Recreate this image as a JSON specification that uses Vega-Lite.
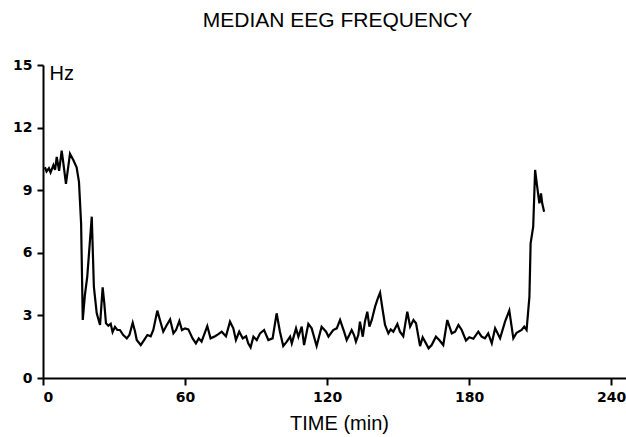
{
  "$schema": "https://vega.github.io/schema/vega-lite/v6.json",
  "autosize": {"type": "none"},
  "padding": {"left": 43, "top": 65, "right": 0, "bottom": 59},
  "width": 583,
  "height": 313,
  "background": "white",
  "title": {"text": "MEDIAN EEG FREQUENCY", "font": "Liberation Sans", "fontSize": 21, "fontWeight": "normal", "color": "black", "anchor": "middle", "offset": 27, "dx": 3},
  "data": {"values": [
    {"t":0.8,"hz":10.1},{"t":1.5,"hz":9.9},{"t":2.5,"hz":10.05},{"t":3.2,"hz":9.85},{"t":4.4,"hz":10.2},{"t":5.1,"hz":9.97},{"t":5.8,"hz":10.6},{"t":6.8,"hz":9.93},{"t":7.9,"hz":10.9},{"t":8.6,"hz":10.3},{"t":9.7,"hz":9.3},{"t":11.4,"hz":10.75},{"t":12.8,"hz":10.45},{"t":14.2,"hz":10.1},{"t":15.2,"hz":9.4},{"t":16.1,"hz":7.4},{"t":16.8,"hz":2.78},{"t":17.7,"hz":3.97},{"t":18.7,"hz":4.86},{"t":20.6,"hz":7.73},{"t":21.5,"hz":4.37},{"t":22.7,"hz":3.1},{"t":24.1,"hz":2.54},{"t":25.2,"hz":4.34},{"t":25.9,"hz":3.58},{"t":26.6,"hz":2.62},{"t":27.6,"hz":2.5},{"t":28.6,"hz":2.6},{"t":29.4,"hz":2.2},{"t":30.4,"hz":2.45},{"t":31.4,"hz":2.3},{"t":32.5,"hz":2.3},{"t":33.9,"hz":2.06},{"t":35.4,"hz":1.9},{"t":36.5,"hz":2.06},{"t":37.9,"hz":2.65},{"t":38.9,"hz":2.22},{"t":39.6,"hz":1.82},{"t":41.3,"hz":1.58},{"t":42.7,"hz":1.82},{"t":44.1,"hz":2.06},{"t":45.5,"hz":2.0},{"t":46.6,"hz":2.3},{"t":48.3,"hz":3.23},{"t":49.4,"hz":2.78},{"t":50.8,"hz":2.22},{"t":52.3,"hz":2.54},{"t":53.7,"hz":2.81},{"t":55.1,"hz":2.14},{"t":56.2,"hz":2.3},{"t":57.6,"hz":2.73},{"t":58.7,"hz":2.3},{"t":60,"hz":2.38},{"t":61.4,"hz":2.33},{"t":63.2,"hz":1.9},{"t":64.6,"hz":1.66},{"t":65.8,"hz":1.9},{"t":67,"hz":1.74},{"t":68,"hz":2.06},{"t":69.4,"hz":2.49},{"t":70.8,"hz":1.9},{"t":72.7,"hz":2.0},{"t":74.1,"hz":2.1},{"t":75.5,"hz":2.22},{"t":77.3,"hz":2.0},{"t":79,"hz":2.7},{"t":80.4,"hz":2.38},{"t":81.5,"hz":1.82},{"t":82.9,"hz":2.22},{"t":84.4,"hz":1.9},{"t":85.8,"hz":2.0},{"t":86.7,"hz":1.66},{"t":87.7,"hz":1.47},{"t":88.9,"hz":1.98},{"t":90.3,"hz":1.82},{"t":91.7,"hz":2.14},{"t":93.4,"hz":2.3},{"t":95.2,"hz":1.82},{"t":97,"hz":1.9},{"t":98.7,"hz":3.1},{"t":100.1,"hz":2.22},{"t":101.5,"hz":1.53},{"t":103,"hz":1.74},{"t":104.4,"hz":1.98},{"t":105.1,"hz":1.66},{"t":106.9,"hz":2.38},{"t":107.9,"hz":1.98},{"t":109.3,"hz":2.46},{"t":110.3,"hz":1.58},{"t":112.1,"hz":2.59},{"t":113.5,"hz":2.38},{"t":115.6,"hz":1.53},{"t":117.7,"hz":2.46},{"t":119.6,"hz":2.22},{"t":120.6,"hz":1.98},{"t":122.6,"hz":2.3},{"t":124.1,"hz":2.38},{"t":125.5,"hz":2.78},{"t":127.2,"hz":2.22},{"t":128.3,"hz":1.82},{"t":129.4,"hz":2.06},{"t":130.4,"hz":2.3},{"t":131.4,"hz":2.06},{"t":132.2,"hz":1.74},{"t":133.2,"hz":2.06},{"t":133.9,"hz":2.7},{"t":135.1,"hz":1.98},{"t":136,"hz":2.7},{"t":137,"hz":3.18},{"t":137.9,"hz":2.46},{"t":138.9,"hz":2.78},{"t":140.3,"hz":3.42},{"t":141.3,"hz":3.77},{"t":142.4,"hz":4.09},{"t":143.5,"hz":3.26},{"t":144.5,"hz":2.54},{"t":145.9,"hz":2.14},{"t":146.9,"hz":2.33},{"t":148,"hz":2.22},{"t":149.7,"hz":2.59},{"t":150.8,"hz":2.22},{"t":152.2,"hz":2.0},{"t":153.9,"hz":3.18},{"t":155.1,"hz":2.46},{"t":156.5,"hz":2.78},{"t":157.6,"hz":2.62},{"t":159.3,"hz":1.53},{"t":160.4,"hz":1.95},{"t":161.8,"hz":1.66},{"t":162.9,"hz":1.42},{"t":164.2,"hz":1.58},{"t":166,"hz":1.98},{"t":167.4,"hz":1.82},{"t":169.1,"hz":1.58},{"t":170.8,"hz":2.78},{"t":172.7,"hz":2.14},{"t":174.1,"hz":2.22},{"t":175.5,"hz":2.54},{"t":176.9,"hz":2.3},{"t":178.7,"hz":1.79},{"t":180.1,"hz":1.95},{"t":181.8,"hz":1.88},{"t":183.9,"hz":2.22},{"t":185.3,"hz":1.98},{"t":186.7,"hz":1.9},{"t":188.1,"hz":2.14},{"t":189.6,"hz":1.66},{"t":191,"hz":2.38},{"t":193.1,"hz":1.9},{"t":195.2,"hz":2.7},{"t":197,"hz":3.23},{"t":198.7,"hz":1.9},{"t":200.1,"hz":2.17},{"t":202.2,"hz":2.3},{"t":203.3,"hz":2.46},{"t":204.3,"hz":2.3},{"t":205.5,"hz":3.9},{"t":206,"hz":6.45},{"t":207.1,"hz":7.25},{"t":207.9,"hz":9.97},{"t":208.6,"hz":9.33},{"t":209.7,"hz":8.37},{"t":210.4,"hz":8.85},{"t":210.9,"hz":8.37},{"t":211.7,"hz":7.97}
  ]},
  "mark": {"type": "line", "color": "black", "strokeWidth": 2.2, "clip": false},
  "encoding": {
    "x": {"field": "t", "type": "quantitative",
      "scale": {"domain": [0, 246.3], "nice": false, "zero": false},
      "axis": {"values": [0, 60, 120, 180, 240], "grid": false, "title": "TIME (min)",
        "titleFont": "Liberation Sans", "titleFontSize": 20, "titleFontWeight": "normal", "titleColor": "black",
        "titleBaseline": "alphabetic", "titleY": 51, "titleX": 296,
        "labelFont": "DejaVu Sans", "labelFontSize": 14, "labelFontWeight": "bold", "labelColor": "black", "labelPadding": 5,
        "domainColor": "black", "domainWidth": 2, "tickColor": "black", "tickWidth": 2, "tickSize": 7}},
    "y": {"field": "hz", "type": "quantitative",
      "scale": {"domain": [0, 15], "nice": false},
      "axis": {"values": [0, 3, 6, 9, 12, 15], "grid": false, "title": "Hz",
        "titleFont": "Liberation Sans", "titleFontSize": 20, "titleFontWeight": "normal", "titleColor": "black",
        "titleAngle": 0, "titleAlign": "left", "titleBaseline": "alphabetic", "titleX": 6, "titleY": 14,
        "labelFont": "DejaVu Sans", "labelFontSize": 14, "labelFontWeight": "bold", "labelColor": "black", "labelPadding": 5,
        "domainColor": "black", "domainWidth": 2, "tickColor": "black", "tickWidth": 2, "tickSize": 6}}
  },
  "config": {"view": {"stroke": null}}
}
